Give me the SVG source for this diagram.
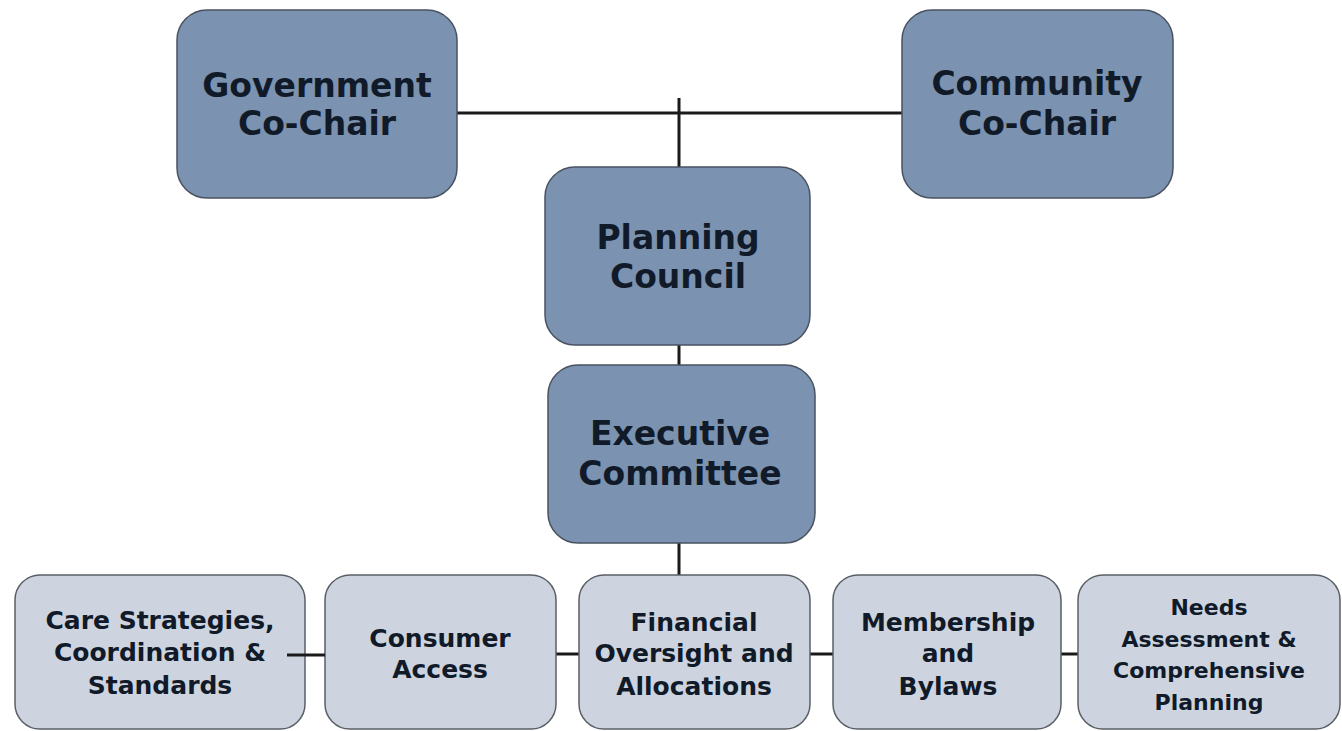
<svg xmlns="http://www.w3.org/2000/svg" width="1342" height="731" viewBox="0 0 1342 731">
<style>
.top{fill:#7b92b0;stroke:#4a5260;stroke-width:1.5}
.bot{fill:#cdd4df;stroke:#5a5f66;stroke-width:1.5}
.t{font-family:"DejaVu Sans",Verdana,sans-serif;font-weight:bold;fill:#111a28;text-anchor:middle}
.tl{font-size:33px}
.tb{font-size:25px}
.ts{font-size:22px}
.c{stroke:#1a1a1a;stroke-width:3;fill:none}
</style>
<rect width="1342" height="731" fill="#ffffff"/>
<g id="connectors">
<line class="c" x1="457" y1="113" x2="902" y2="113"/>
<line class="c" x1="679" y1="98" x2="679" y2="168"/>
<line class="c" x1="679" y1="345" x2="679" y2="366"/>
<line class="c" x1="679" y1="543" x2="679" y2="576"/>
<line class="c" x1="556" y1="654" x2="580" y2="654"/>
<line class="c" x1="810" y1="654" x2="834" y2="654"/>
<line class="c" x1="1061" y1="654" x2="1079" y2="654"/>
</g>
<g id="gov">
<rect class="top" x="177" y="10" width="280" height="188" rx="30"/>
<text class="t tl" x="317" y="97">Government</text>
<text class="t tl" x="317" y="135">Co-Chair</text>
</g>
<g id="com">
<rect class="top" x="902" y="10" width="271" height="188" rx="30"/>
<text class="t tl" x="1037" y="95">Community</text>
<text class="t tl" x="1037" y="135">Co-Chair</text>
</g>
<g id="planning">
<rect class="top" x="545" y="167" width="265" height="178" rx="30"/>
<text class="t tl" x="678" y="249">Planning</text>
<text class="t tl" x="678" y="288">Council</text>
</g>
<g id="exec">
<rect class="top" x="548" y="365" width="267" height="178" rx="30"/>
<text class="t tl" x="680" y="445">Executive</text>
<text class="t tl" x="680" y="485">Committee</text>
</g>
<g id="care">
<rect class="bot" x="15" y="575" width="290" height="154" rx="25"/>
<text class="t tb" x="160" y="629">Care Strategies,</text>
<text class="t tb" x="160" y="661">Coordination &amp;</text>
<text class="t tb" x="160" y="694">Standards</text>
</g>
<g id="consumer">
<rect class="bot" x="325" y="575" width="231" height="154" rx="25"/>
<text class="t tb" x="440" y="647">Consumer</text>
<text class="t tb" x="440" y="678">Access</text>
</g>
<g id="financial">
<rect class="bot" x="579" y="575" width="231" height="154" rx="25"/>
<text class="t tb" x="694" y="631">Financial</text>
<text class="t tb" x="694" y="662">Oversight and</text>
<text class="t tb" x="694" y="695">Allocations</text>
</g>
<g id="membership">
<rect class="bot" x="833" y="575" width="228" height="154" rx="25"/>
<text class="t tb" x="948" y="631">Membership</text>
<text class="t tb" x="948" y="662">and</text>
<text class="t tb" x="948" y="695">Bylaws</text>
</g>
<g id="needs">
<rect class="bot" x="1078" y="575" width="262" height="154" rx="25"/>
<text class="t ts" x="1209" y="615">Needs</text>
<text class="t ts" x="1209" y="647">Assessment &amp;</text>
<text class="t ts" x="1209" y="678">Comprehensive</text>
<text class="t ts" x="1209" y="710">Planning</text>
</g>
<g id="care-link">
<line class="c" x1="287" y1="655" x2="325" y2="655"/>
</g>
</svg>
